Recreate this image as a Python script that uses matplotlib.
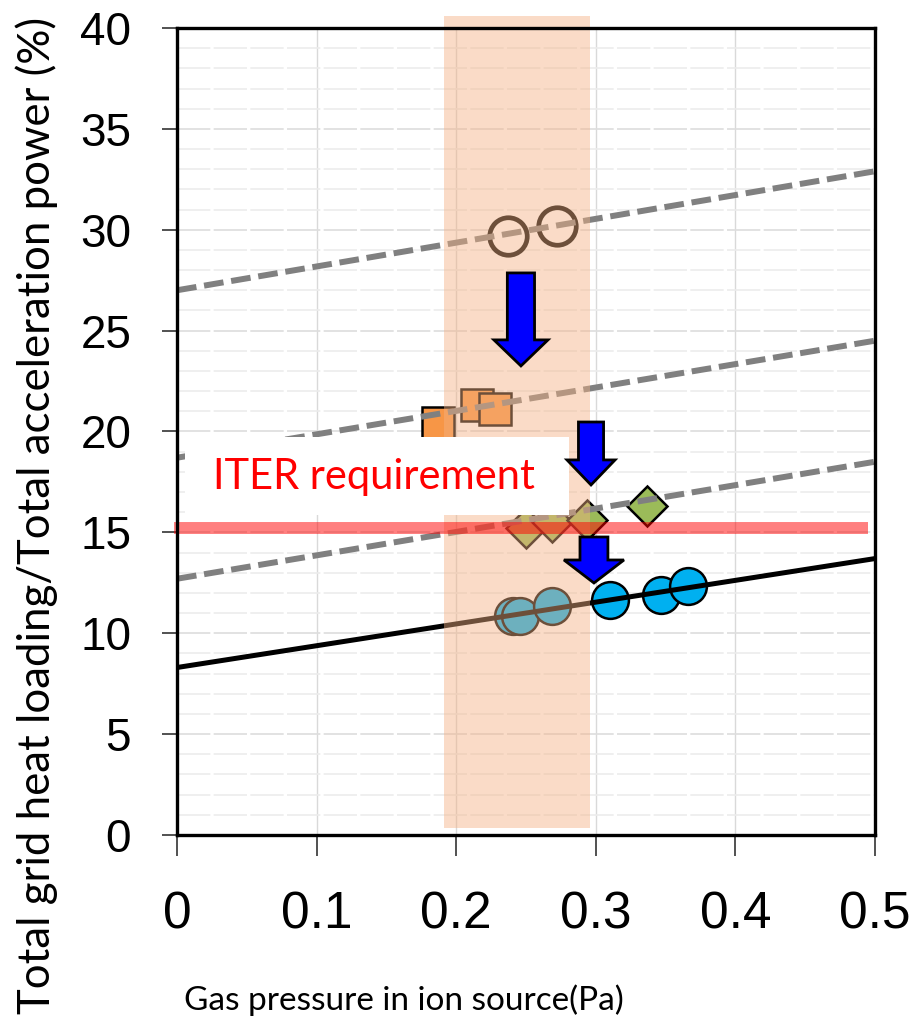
import numpy as np
import matplotlib
matplotlib.use("Agg")
import matplotlib.pyplot as plt
from matplotlib.patches import Rectangle, FancyArrow
from matplotlib.ticker import MultipleLocator

# Datos
open_x = [0.237, 0.272]
open_y = [29.7, 30.2]

square_x = [0.187, 0.215, 0.228]
square_y = [20.4, 21.3, 21.1]

diamond_x = [0.250, 0.269, 0.294, 0.337]
diamond_y = [15.2, 15.5, 15.6, 16.3]

circle_x = [0.241, 0.246, 0.269, 0.310, 0.347, 0.366]
circle_y = [10.85, 10.85, 11.35, 11.65, 11.9, 12.35]

# Retas de tendência (extremos em x=0 e x=0.5)
trend_x = [0.0, 0.5]
dashed_top = [27.0, 32.9]
dashed_mid = [18.7, 24.5]
dashed_low = [12.7, 18.5]
solid_line = [8.3, 13.7]

iter_requirement = 15.2
band_x = [0.191, 0.296]

# Setas (x, y inicial, y final)
arrows = [
    (0.2464, 27.86, 23.25),
    (0.2966, 20.47, 17.35),
    (0.2987, 14.77, 12.49),
]

x_ticks = [0, 0.1, 0.2, 0.3, 0.4, 0.5]
x_labels = ["0", "0.1", "0.2", "0.3", "0.4", "0.5"]
y_ticks = [0, 5, 10, 15, 20, 25, 30, 35, 40]

calibri = ["Lato", "DejaVu Sans"]


def main():

    fig = plt.figure(figsize=(9.16, 10.26), dpi=100)
    ax = fig.add_axes([0.1932, 0.1862, 0.762, 0.7865])

    ax.set_xlim(0, 0.5)
    ax.set_ylim(0, 40)

    # Grade
    ax.yaxis.set_minor_locator(MultipleLocator(1))
    ax.grid(which="minor", axis="y", color="#ECECEC", lw=1.2,
            dashes=(20, 2), zorder=0)
    ax.grid(which="major", axis="y", color="#DDDDDD", lw=1.2,
            dashes=(20, 2), zorder=0)
    ax.grid(which="major", axis="x", color="#D9D9D9", lw=1.0, zorder=0)
    ax.set_axisbelow(True)

    # Marcadores
    ax.plot(open_x, open_y, "o", ms=27, mfc="white", mec="black",
            mew=3.4, zorder=3)
    ax.plot(square_x, square_y, "s", ms=23.5, mfc="#F79646", mec="black",
            mew=1.8, zorder=3)
    ax.plot(diamond_x, diamond_y, "D", ms=20, mfc="#9BBB59", mec="black",
            mew=1.8, zorder=3)
    ax.plot(circle_x, circle_y, "o", ms=26.5, mfc="#00B0F0", mec="black",
            mew=1.8, zorder=3)

    # Retas
    for yy in (dashed_top, dashed_mid, dashed_low):
        ax.plot(trend_x, yy, color="#808080", lw=4.3, dashes=(3.3, 1.3),
                zorder=4, solid_capstyle="butt")
    ax.plot(trend_x, solid_line, color="black", lw=3.6, zorder=4)

    # Faixa sombreada
    band = Rectangle((band_x[0], 0.35), band_x[1] - band_x[0], 40.25,
                     facecolor="#F4B183", alpha=0.45, lw=0, zorder=5,
                     clip_on=False)
    ax.add_patch(band)

    # Requisito ITER
    ax.plot([-0.002, 0.495], [iter_requirement] * 2, color="#FF0000",
            alpha=0.5, lw=8.6, solid_capstyle="butt", zorder=6,
            clip_on=False)

    box = Rectangle((0.0057, 15.86), 0.2751, 3.87, facecolor="white",
                    lw=0, zorder=7)
    ax.add_patch(box)
    ax.text(0.1411, 17.75, "ITER requirement", color="#FF0000",
            fontsize=30, family=calibri, ha="center", va="center", zorder=8)

    # Setas azuis
    head_w = [0.0387, 0.0344, 0.043]
    shaft_w = [0.0195, 0.018, 0.020]
    head_l = [1.29, 1.24, 1.14]
    for i, (x, y0, y1) in enumerate(arrows):
        arr = FancyArrow(x, y0, 0, y1 - y0, width=shaft_w[i],
                         head_width=head_w[i], head_length=head_l[i],
                         length_includes_head=True, facecolor="#0000FF",
                         edgecolor="black", lw=2, zorder=9)
        ax.add_patch(arr)

    # Eixos
    for s in ax.spines.values():
        s.set_linewidth(2.4)
        s.set_color("black")
        s.set_zorder(10)

    ax.set_xticks(x_ticks)
    ax.set_xticklabels(x_labels, family="Liberation Sans", fontsize=37)
    ax.set_yticks(y_ticks)
    ax.set_yticklabels([str(v) for v in y_ticks], family="Liberation Sans",
                       fontsize=33)
    ax.tick_params(axis="x", direction="out", length=15, width=1.2,
                   color="#333333", pad=25)
    ax.tick_params(axis="y", direction="out", length=11, width=1.2,
                   color="#333333", pad=22)
    ax.tick_params(which="minor", length=0)

    fig.text(0.040, 1 - 515 / 1026,
             "Total grid heat loading/Total acceleration power (%)",
             rotation=90, ha="center", va="center", fontsize=31.5,
             family=calibri)
    fig.text(0.441, 1 - 1000 / 1026, "Gas pressure in ion source(Pa)",
             ha="center", va="center", fontsize=24, family=calibri)

    fig.savefig("out.png", dpi=100)


if __name__ == "__main__":
    main()
